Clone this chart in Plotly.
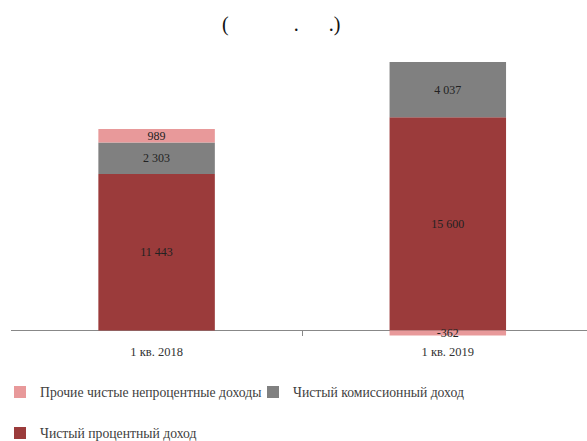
import plotly.graph_objects as go

categories = ["1 кв. 2018", "1 кв. 2019"]
net_interest = [11443, 15600]
net_commission = [2303, 4037]
other_nonint = [989, -362]

names = ["Чистый процентный доход", "Чистый комиссионный доход",
         "Прочие чистые непроцентные доходы"]
colors = ["#9B3B3B", "#808080", "#E8999A"]
title_text = "(\u00a0\u00a0\u00a0\u00a0\u00a0\u00a0\u00a0\u00a0\u00a0\u00a0\u00a0\u00a0\u00a0.\u00a0\u00a0\u00a0\u00a0\u00a0\u00a0.)"


def fmt(v):
    return f"{v:,}".replace(",", " ")


fig = go.Figure()
series = [net_interest, net_commission, other_nonint]
legends = ["legend2", "legend", "legend"]
for vals, name, col, lg in zip(series, names, colors, legends):
    fig.add_trace(go.Bar(
        x=categories, y=vals, name=name, marker_color=col,
        marker_line_width=0, width=0.40,
        text=[fmt(v) for v in vals], textposition="inside",
        insidetextanchor="middle", constraintext="none",
        textfont=dict(family="Liberation Serif", size=12, color="#222222"),
        cliponaxis=False, legend=lg,
    ))

fig.update_layout(
    width=587, height=441,
    barmode="relative",
    paper_bgcolor="white", plot_bgcolor="white",
    margin=dict(l=11, r=0, t=46, b=105),
    title=dict(text=title_text, x=0.479, xanchor="center", y=0.945, yanchor="middle",
               font=dict(family="Liberation Serif", size=20, color="#111111")),
    xaxis=dict(type="category", range=[-0.5, 1.478], showline=False,
               ticks="inside", tickson="boundaries", ticklen=5, tickcolor="#888888",
               tickfont=dict(family="Liberation Serif", size=12.5, color="#333333"),
               ticklabelstandoff=6, showgrid=False),
    yaxis=dict(range=[-400, 20800], visible=True, showticklabels=False,
               showgrid=False, zeroline=True, zerolinecolor="#888888", zerolinewidth=1,
               showline=False, ticks=""),
    legend=dict(orientation="h", xref="container", yref="container",
                x=0.0, y=1 - 392 / 441, xanchor="left", yanchor="middle",
                traceorder="reversed", entrywidth=208, entrywidthmode="pixels",
                font=dict(family="Liberation Serif", size=13.7, color="#404040")),
    legend2=dict(orientation="h", xref="container", yref="container",
                 x=0.0, y=1 - 433 / 441, xanchor="left", yanchor="middle",
                 font=dict(family="Liberation Serif", size=13.7, color="#404040")),
    showlegend=True,
)

fig.write_html("out.html", config={"displayModeBar": False},
               post_script="document.body.style.margin='0';document.body.style.overflow='hidden';")
